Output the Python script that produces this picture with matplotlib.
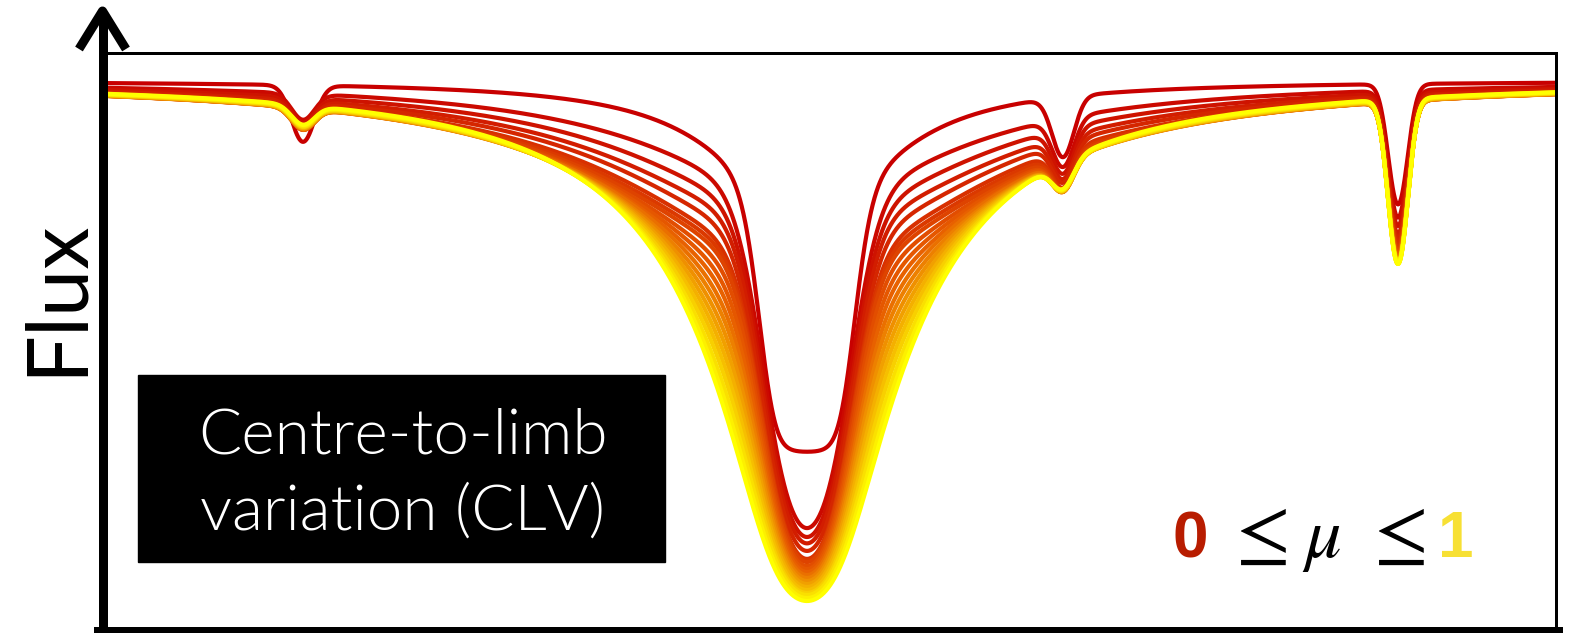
import os
import numpy as np
import matplotlib
matplotlib.use("Agg")
import matplotlib.pyplot as plt
from matplotlib import font_manager as fm
from matplotlib.colors import LinearSegmentedColormap
from matplotlib.lines import Line2D
from matplotlib.patches import Rectangle

plt.rcParams["mathtext.fontset"] = "stix"

# ---------------- data ----------------
mu = [0.00, 0.05, 0.10, 0.15, 0.20, 0.25, 0.30, 0.35, 0.40, 0.45, 0.50,
      0.55, 0.60, 0.65, 0.70, 0.75, 0.80, 0.85, 0.90, 0.95, 1.00]

continuum = 1.008          # normalised continuum flux
main_center = 807.0        # wavelength of the strong line (arbitrary units)

# limb (mu = 0) profile: saturated, flat-bottomed core
limb_floor = 0.32
limb_core_depth = 5.3
limb_core_width = 33.0
limb_wing_depth = 0.51
limb_wing_width = 80.0

# mu > 0 profiles: flux read at line centre, 107 and 207 units from centre
flux_centre = [0.1840, 0.1676, 0.1565, 0.1455, 0.1363, 0.1289, 0.1215, 0.1142,
               0.1087, 0.1031, 0.0976, 0.0921, 0.0866, 0.0810, 0.0755, 0.0700,
               0.0645, 0.0608, 0.0552, 0.0497]
flux_107 = [0.8435, 0.8122, 0.7882, 0.7698, 0.7532, 0.7366, 0.7219, 0.7072,
            0.6924, 0.6777, 0.6630, 0.6483, 0.6335, 0.6188, 0.6041, 0.5893,
            0.5746, 0.5580, 0.5433, 0.5285]
flux_207 = [0.9171, 0.8932, 0.8748, 0.8619, 0.8490, 0.8398, 0.8324, 0.8269,
            0.8232, 0.8195, 0.8177, 0.8140, 0.8122, 0.8103, 0.8085, 0.8066,
            0.8048, 0.8029, 0.8020, 0.8011]
core_width = 43.0
lorentz_width = 55.0
wing_width = 180.0

# weak lines
weak_centers = [303.0, 1063.0, 1398.0]
weak_widths = [16.0, 15.0, 13.0]
weak1_depth = [0.11, 0.050, 0.048, 0.047, 0.046, 0.045, 0.044, 0.043, 0.043,
               0.042, 0.042, 0.041, 0.041, 0.040, 0.040, 0.040, 0.039, 0.039,
               0.039, 0.038, 0.038]
weak2_depth = [0.12, 0.10, 0.094, 0.089, 0.085, 0.082, 0.079, 0.077, 0.075,
               0.073, 0.071, 0.069, 0.068, 0.067, 0.066, 0.065, 0.064, 0.063,
               0.062, 0.062, 0.061]
weak3_depth = [0.25, 0.27, 0.285, 0.30, 0.31, 0.32, 0.328, 0.335, 0.34, 0.345,
               0.35, 0.354, 0.358, 0.361, 0.364, 0.366, 0.368, 0.370, 0.372,
               0.373, 0.374]

box_lines = ["Centre-to-limb", "variation (CLV)"]
ylabel = "Flux"


# ---------------- fonts ----------------
def find_font(names):
    files = fm.findSystemFonts()
    for n in names:
        for f in files:
            if os.path.basename(f).lower() == n.lower():
                return fm.FontProperties(fname=f)
    return None


light_font = find_font(["Lato-Light.ttf", "OpenSans-Light.ttf", "Roboto-Light.ttf",
                        "NotoSans-Light.ttf", "Inter-Light.ttf"])
if light_font is None:
    light_font = fm.FontProperties(family="Lato")


# ---------------- line profile model ----------------
def gauss(d, s):
    return np.exp(-(np.asarray(d, float) / s) ** 2)


def lor(d, g):
    d = np.asarray(d, float)
    return g ** 2 / (d ** 2 + g ** 2)


def components(d):
    return np.array([gauss(d, core_width), lor(d, lorentz_width), lor(d, wing_width)])


probe = [0.0, 107.0, 207.0]
basis = np.column_stack([components(p) for p in probe]).T

W, H, DPI = 1572, 633, 100
fig = plt.figure(figsize=(W / DPI, H / DPI), dpi=DPI)


def fx(x):
    return x / W


def fy(y):
    return 1 - y / H


ax_left, ax_right, ax_top, ax_bot = 108, 1556, 53, 628
ax = fig.add_axes([fx(ax_left), fy(ax_bot), (ax_right - ax_left) / W,
                   (ax_bot - ax_top) / H])
ax.set_xlim(ax_left, ax_right)
ax.set_ylim(0, (ax_bot - ax_top) / 543.0)
ax.axis("off")

cmap = LinearSegmentedColormap.from_list("clv", ["#c80000", "#e86000", "#ffff00"])

wl = np.linspace(ax_left, ax_right, 4000)
d = wl - main_center
for i, m in enumerate(mu):
    if i == 0:
        tau = (limb_core_depth * gauss(d, limb_core_width)
               + limb_wing_depth * lor(d, limb_wing_width))
        prof = limb_floor + (1 - limb_floor) * np.exp(-tau)
    else:
        target = -np.log(np.array([flux_centre[i - 1], flux_107[i - 1],
                                   flux_207[i - 1]]) / continuum)
        amp = np.clip(np.linalg.solve(basis, target), 0, None)
        tau = amp @ components(d)
        prof = np.exp(-tau)
    for c, s, dep in zip(weak_centers, weak_widths,
                         [weak1_depth[i], weak2_depth[i], weak3_depth[i]]):
        prof = prof * np.exp(-dep * gauss(wl - c, s))
    ax.plot(wl, continuum * prof, color=cmap(m), lw=3.0,
            solid_capstyle="round", zorder=2 + i)

# ---------------- frame with arrow ----------------
thin = 3 * 0.72
thick = 9 * 0.72
fig.add_artist(Line2D([fx(104), fx(1556), fx(1556)], [fy(53), fy(53), fy(629)],
                      transform=fig.transFigure, color="black", lw=thin,
                      solid_joinstyle="miter"))
fig.add_artist(Line2D([fx(98), fx(1558)], [fy(631), fy(631)],
                      transform=fig.transFigure, color="black", lw=thick))
fig.add_artist(Line2D([fx(102.5), fx(102.5)], [fy(12), fy(640)],
                      transform=fig.transFigure, color="black", lw=thick,
                      solid_capstyle="butt"))
fig.add_artist(Line2D([fx(79), fx(102.5), fx(126)], [fy(49), fy(11), fy(49)],
                      transform=fig.transFigure, color="black", lw=thick,
                      solid_joinstyle="round", solid_capstyle="butt"))

# ---------------- texts ----------------
fig.text(fx(57), fy(297), ylabel, rotation=90, ha="center", va="center",
         fontsize=61, family="Lato", color="black")

fig.add_artist(Rectangle((fx(138), fy(562)), (665 - 138) / W, (562 - 375) / H,
                         transform=fig.transFigure, color="black", zorder=5))
fig.text(fx(403), fy(453), box_lines[0], ha="center", va="baseline",
         fontproperties=light_font, fontsize=46, color="white", zorder=6)
fig.text(fx(403), fy(530), box_lines[1], ha="center", va="baseline",
         fontproperties=light_font, fontsize=46, color="white", zorder=6)

base = fy(557)
fig.text(fx(1190), base, "0", ha="center", va="baseline", fontsize=46,
         family="Liberation Sans", fontweight="bold", color="#b81c00")
fig.text(fx(1256), base, r"$\leq$", ha="center", va="baseline", fontsize=57, color="black")
fig.text(fx(1322), base, r"$\mu$", ha="center", va="baseline", fontsize=52, color="black")
fig.text(fx(1394), base, r"$\leq$", ha="center", va="baseline", fontsize=57, color="black")
fig.text(fx(1456), base, "1", ha="center", va="baseline", fontsize=46,
         family="Liberation Sans", fontweight="bold", color="#f7e034")

fig.savefig("out.png", dpi=DPI)
